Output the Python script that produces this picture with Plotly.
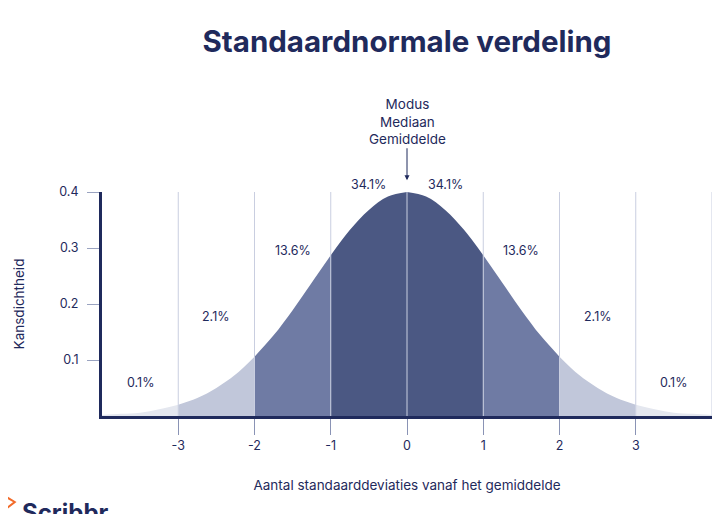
import plotly.graph_objects as go

# curve (density per std. deviation)
x_vals = [-4, -3.75, -3.5, -3.25, -3, -2.75, -2.5, -2.25, -2, -1.75, -1.5, -1.25, -1,
          -0.75, -0.5, -0.25, 0, 0.25, 0.5, 0.75, 1, 1.25, 1.5, 1.75, 2,
          2.25, 2.5, 2.75, 3, 3.25, 3.5, 3.75, 4]
y_vals = [0.002, 0.004, 0.006, 0.012, 0.020, 0.032, 0.050, 0.074, 0.106, 0.144, 0.189, 0.238, 0.287,
          0.332, 0.368, 0.392, 0.400, 0.392, 0.368, 0.332, 0.287, 0.238, 0.189, 0.144, 0.106,
          0.074, 0.050, 0.032, 0.020, 0.012, 0.006, 0.004, 0.002]

# shaded bands and their share of the area
band_edges = [-4, -3, -2, -1, 0, 1, 2, 3, 4]
band_pct = ["0.1%", "2.1%", "13.6%", "34.1%", "34.1%", "13.6%", "2.1%", "0.1%"]
band_colors = ["#e4e7ef", "#c1c7da", "#6f7ba4", "#4b5883",
               "#4b5883", "#6f7ba4", "#c1c7da", "#e4e7ef"]
label_heights = [0.059, 0.177, 0.296, 0.414, 0.414, 0.296, 0.177, 0.059]

x_ticks = [-3, -2, -1, 0, 1, 2, 3]
x_ticktext = ["-3", "-2", "-1", "0", "1", "2", "3"]
y_ticks = [0.1, 0.2, 0.3, 0.4]
grid_x = [-3, -2, -1, 0, 1, 2, 3, 4]

navy = "#1f2a5c"
font_family = "Inter"
y_top = 0.4

fig = go.Figure()

for i in range(len(band_pct)):
    lo, hi = band_edges[i], band_edges[i + 1]
    xs = [x for x in x_vals if lo <= x <= hi]
    ys = [y for x, y in zip(x_vals, y_vals) if lo <= x <= hi]
    fig.add_trace(go.Scatter(
        x=xs, y=ys, mode="lines", fill="tozeroy",
        fillcolor=band_colors[i], line=dict(width=0, shape="spline"),
        hoverinfo="skip", showlegend=False,
    ))
    # paper coords so labels above the axis range are not hidden
    fig.add_annotation(
        x=(lo + hi) / 2, xref="x", y=label_heights[i] / y_top, yref="paper",
        xanchor="center", yanchor="middle",
        text=band_pct[i], showarrow=False, font=dict(size=12.5, color=navy),
    )

# vertical guide lines on top of the fills
for gx in grid_x:
    fig.add_shape(type="line", x0=gx, x1=gx, y0=0, y1=y_top, xref="x", yref="y",
                  line=dict(color="#c9cee0", width=1), layer="above")

fig.add_annotation(
    x=0, xref="x", y=0.421 / y_top, yref="paper", text="Modus<br>Mediaan<br>Gemiddelde",
    showarrow=True, arrowhead=2, arrowsize=1, arrowwidth=1, arrowcolor=navy,
    ax=0, ay=-59, font=dict(size=13.5, color=navy),
)

# logo, cut off at the bottom like the reference
fig.add_annotation(
    xref="paper", yref="paper", x=-0.134, y=-0.43, xanchor="left", yanchor="middle",
    text="<b>Scribbr</b>", showarrow=False, font=dict(size=24, color=navy),
)
fig.add_shape(type="path", xref="paper", yref="paper",
              path="M -0.167 -0.345 L -0.143 -0.384 L -0.160 -0.420",
              line=dict(color="#f26b2a", width=2))
fig.add_shape(type="path", xref="paper", yref="paper",
              path="M -0.167 -0.385 L -0.155 -0.405",
              line=dict(color="#f26b2a", width=2))

fig.update_layout(
    width=714, height=506,
    margin=dict(l=94, r=10, t=184, b=98),
    paper_bgcolor="white", plot_bgcolor="white",
    font=dict(family=font_family, color=navy, size=12),
    title=dict(text="<b>Standaardnormale verdeling</b>", x=0.5, xref="paper",
               y=0.933, yref="container", yanchor="middle",
               font=dict(size=29.5, color=navy)),
)

fig.update_xaxes(
    range=[-4, 4], tickvals=x_ticks, ticktext=x_ticktext, showgrid=False, zeroline=False,
    showline=True, linecolor=navy, linewidth=3, automargin=False,
    ticks="outside", ticklen=16, tickcolor="#8a93b5", tickwidth=1,
    tickfont=dict(size=12.5),
    title=dict(text="Aantal standaarddeviaties vanaf het gemiddelde", standoff=29,
               font=dict(size=13.5, color=navy)),
)
fig.update_yaxes(
    range=[0, y_top], tickvals=y_ticks, tickformat=".1f",
    showgrid=False, zeroline=False, automargin=False,
    showline=True, linecolor=navy, linewidth=3,
    ticks="outside", ticklen=12, tickcolor="#9aa3c0", tickwidth=1, ticklabelstandoff=6,
    tickfont=dict(size=12.5),
    title=dict(text="Kansdichtheid", standoff=32, font=dict(size=13.5, color=navy)),
)

fig.write_html("out.html")
